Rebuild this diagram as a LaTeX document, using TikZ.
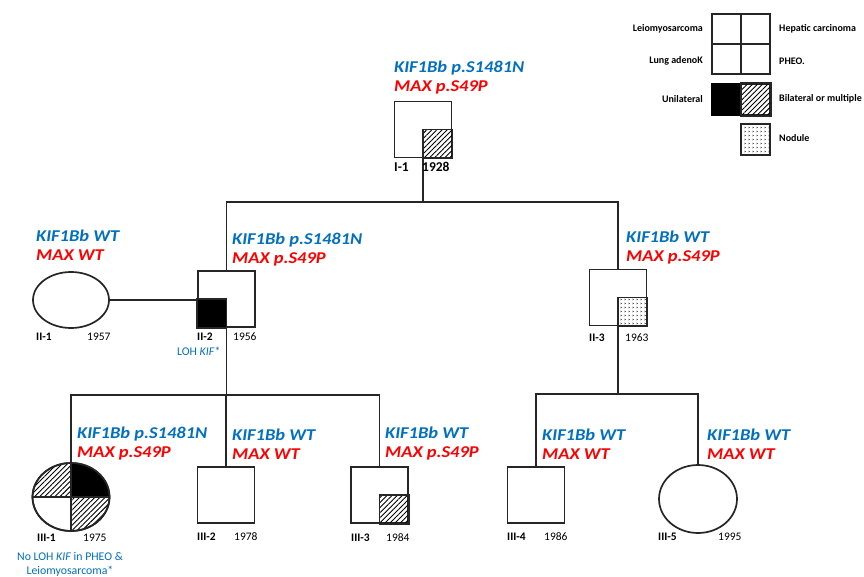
\documentclass[tikz,border=0pt]{standalone}
\usepackage{fontspec}
\setmainfont{Carlito}
\newfontfamily\genefont[FakeStretch=1.12]{Carlito}
\usetikzlibrary{patterns.meta,shapes.geometric}
\definecolor{kblue}{RGB}{0,112,192}
\definecolor{mred}{RGB}{255,0,0}
\tikzdeclarepattern{name=nodule, type=uncolored,
  bounding box={(0pt,0pt) and (4pt,4pt)}, tile size={(4pt,4pt)},
  code={\draw[line width=0.45pt] (0.8pt,1.0pt) -- (1.8pt,1.8pt) -- (0.8pt,2.6pt);}}
\begin{document}
\begin{tikzpicture}[x=1pt,y=-1pt,
  line/.style={draw=black!85, line width=1.7pt},
  person/.style={line, inner sep=0pt, fill=white},
  male/.style={person, rectangle, minimum width=57pt, minimum height=56pt},
  female/.style={person, ellipse},
  hatch/.style={pattern={Lines[angle=45,distance=3.6pt,line width=0.9pt]}},
  gene/.style={anchor=west, inner sep=0pt, align=left, font=\genefont\bfseries\itshape\fontsize{16.5}{19}\selectfont},
  pid/.style={anchor=west, inner sep=0pt, font=\bfseries\fontsize{11.5}{13}\selectfont},
  year/.style={anchor=west, inner sep=0pt, font=\fontsize{11.5}{13}\selectfont},
  note/.style={inner sep=0pt, text=kblue, font=\fontsize{11.8}{14}\selectfont, align=center},
  leg/.style={inner sep=0pt, font=\bfseries\fontsize{10}{12}\selectfont}]
\useasboundingbox[fill=white] (0,0) rectangle (864,577);

% ---------- legend ----------
\node[person, minimum width=58pt, minimum height=60pt] (legq) at (741,44) {};
\draw[line] (legq.north) -- (legq.south);
\draw[line] (legq.west) -- (legq.east);
\node[person, minimum width=58pt, minimum height=31pt] (legu) at (741,99.5) {};
\fill (legu.north west) rectangle (legu.south);
\draw[line, hatch] (legu.north) rectangle (legu.south east);
\node[person, minimum width=29pt, minimum height=31pt, pattern=nodule] (legn) at (755.5,139.5) {};
\node[leg, anchor=east] (l1) at (703,29) {Leiomyosarcoma};
\node[leg, anchor=west] (l2) at (779,29) {Hepatic carcinoma};
\node[leg, anchor=east] (l3) at (703,61) {Lung adenoK};
\node[leg, anchor=west] (l4) at (779,61) {PHEO.};
\node[leg, anchor=east] (l5) at (703,99) {Unilateral};
\node[leg, anchor=west] (l6) at (779,99) {Bilateral or multiple};
\node[leg, anchor=west] (l7) at (779,138) {Nodule};

% ---------- persons ----------
\node[male] (i1) at (423,129.5) {};
\node[female, minimum width=76pt, minimum height=56pt] (ii1) at (71,300) {};
\node[male] (ii2) at (226.5,299) {};
\node[male] (ii3) at (618,297.5) {};
\node[female, minimum width=77pt, minimum height=68pt] (iii1) at (71,497) {};
\node[male] (iii2) at (226,495) {};
\node[male] (iii3) at (379.5,495) {};
\node[male] (iii4) at (536,495) {};
\node[female, minimum width=78pt, minimum height=68pt] (iii5) at (698,499) {};

% quarter fills
\draw[line, hatch] (i1.center) rectangle (i1.south east);
\draw[line, fill=black] (ii2.center) rectangle (ii2.south west);
\draw[line, pattern=nodule] (ii3.center) rectangle (ii3.south east);
\draw[line, hatch] (iii3.center) rectangle (iii3.south east);
\begin{scope}
  \clip (iii1.center) ellipse [x radius=38.5, y radius=34];
  \draw[line, hatch] (iii1.center) rectangle ++(-40,-36);
  \fill (iii1.center) rectangle ++(40,-36);
  \draw[line, hatch] (iii1.center) rectangle ++(40,36);
\end{scope}
\draw[line] (iii1.north) -- (iii1.south);
\draw[line] (iii1.west) -- (iii1.east);
\draw[line] (iii1.center) ellipse [x radius=38.5, y radius=34];

% ---------- connectors ----------
\coordinate (top) at (423,202);
\draw[line] (i1.south) -- (top);
\draw[line] (ii2.north) |- (top) -| (ii3.north);
\draw[line] (ii1.east) -- (ii2.west |- ii1.east);
\coordinate (sib1) at (226.5,395);
\draw[line] (ii2.south) -- (sib1);
\draw[line] (iii1.north) |- (sib1) -| (iii3.north);
\draw[line] (iii2.north) -- (iii2.north |- sib1);
\coordinate (sib2) at (618,394);
\draw[line] (ii3.south) -- (sib2);
\draw[line] (iii4.north) |- (sib2) -| (iii5.north);

% ---------- genotype labels ----------
\node[gene] (g-i1) at (394,77.5) {\textcolor{kblue}{KIF1Bb p.S1481N}\\\textcolor{mred}{MAX p.S49P}};
\node[gene] (g-ii1) at (36,245.5) {\textcolor{kblue}{KIF1Bb WT}\\\textcolor{mred}{MAX WT}};
\node[gene] (g-ii2) at (232,249.5) {\textcolor{kblue}{KIF1Bb p.S1481N}\\\textcolor{mred}{MAX p.S49P}};
\node[gene] (g-ii3) at (626,248) {\textcolor{kblue}{KIF1Bb WT}\\\textcolor{mred}{MAX p.S49P}};
\node[gene] (g-iii1) at (77,443.5) {\textcolor{kblue}{KIF1Bb p.S1481N}\\\textcolor{mred}{MAX p.S49P}};
\node[gene] (g-iii2) at (232,444) {\textcolor{kblue}{KIF1Bb WT}\\\textcolor{mred}{MAX WT}};
\node[gene] (g-iii3) at (385,444) {\textcolor{kblue}{KIF1Bb WT}\\\textcolor{mred}{MAX p.S49P}};
\node[gene] (g-iii4) at (542,444) {\textcolor{kblue}{KIF1Bb WT}\\\textcolor{mred}{MAX WT}};
\node[gene] (g-iii5) at (707,444) {\textcolor{kblue}{KIF1Bb WT}\\\textcolor{mred}{MAX WT}};

% ---------- ids and years ----------
\node[pid, font=\bfseries\fontsize{13.5}{15}\selectfont] (id-i1) at (394,167) {I-1};
\node[pid, font=\bfseries\fontsize{13.5}{15}\selectfont] (y-i1) at (422,167) {1928};
\node[pid] (id-ii1) at (36,337) {II-1};
\node[year] (y-ii1) at (87,337) {1957};
\node[pid] (id-ii2) at (197,337) {II-2};
\node[year] (y-ii2) at (233,337) {1956};
\node[note, anchor=west] (n-ii2) at (177,351) {LOH \textit{KIF}*};
\node[pid] (id-ii3) at (589,338) {II-3};
\node[year] (y-ii3) at (625,338) {1963};
\node[pid] (id-iii1) at (37,538) {III-1};
\node[year] (y-iii1) at (83,538) {1975};
\node[note] (n-iii1) at (70,564) {No LOH \textit{KIF} in PHEO \&\\Leiomyosarcoma*};
\node[pid] (id-iii2) at (197,537) {III-2};
\node[year] (y-iii2) at (234,537) {1978};
\node[pid] (id-iii3) at (351,538) {III-3};
\node[year] (y-iii3) at (386,538) {1984};
\node[pid] (id-iii4) at (507,537) {III-4};
\node[year] (y-iii4) at (544,537) {1986};
\node[pid] (id-iii5) at (658,537) {III-5};
\node[year] (y-iii5) at (718,537) {1995};
\end{tikzpicture}
\end{document}
